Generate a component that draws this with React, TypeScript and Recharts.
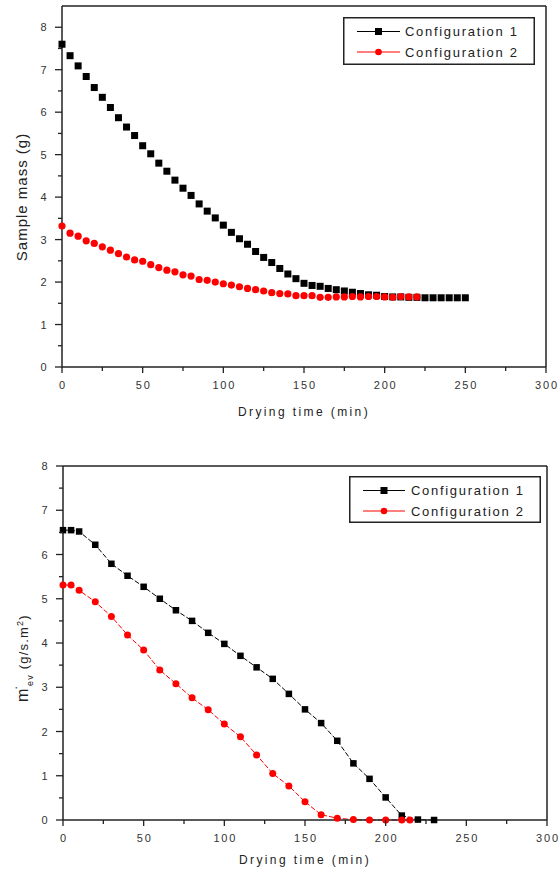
import { Label, Legend, Line, LineChart, ReferenceLine, XAxis, YAxis } from "recharts";

const FONT = "'Liberation Sans', Arial, sans-serif";
const INK = "#222";

const SERIES_NAMES = ["Configuration 1", "Configuration 2"];
const SERIES_COLORS = ["#000000", "#ff0000"];

const X_TICKS = [0, 25, 50, 75, 100, 125, 150, 175, 200, 225, 250, 275, 300];
const Y_TICKS = [0, 0.5, 1, 1.5, 2, 2.5, 3, 3.5, 4, 4.5, 5, 5.5, 6, 6.5, 7, 7.5, 8];

// sample mass, top panel
const MASS_TIME_1 = [
  0, 5, 10, 15, 20, 25, 30, 35, 40, 45, 50, 55, 60, 65, 70, 75, 80, 85, 90, 95, 100, 105, 110, 115, 120, 125,
  130, 135, 140, 145, 150, 155, 160, 165, 170, 175, 180, 185, 190, 195, 200, 205, 210, 215, 220, 225, 230, 235,
  240, 245, 250,
];
const MASS_1 = [
  7.6, 7.33, 7.09, 6.84, 6.58, 6.35, 6.11, 5.87, 5.65, 5.45, 5.21, 5.02, 4.8, 4.61, 4.4, 4.21, 4.04, 3.84, 3.67,
  3.51, 3.34, 3.17, 3.02, 2.89, 2.72, 2.58, 2.46, 2.32, 2.19, 2.08, 1.97, 1.92, 1.9, 1.85, 1.82, 1.79, 1.76, 1.73,
  1.7, 1.69, 1.66, 1.65, 1.65, 1.64, 1.64, 1.63, 1.63, 1.63, 1.63, 1.63, 1.63,
];
const MASS_TIME_2 = [
  0, 5, 10, 15, 20, 25, 30, 35, 40, 45, 50, 55, 60, 65, 70, 75, 80, 85, 90, 95, 100, 105, 110, 115, 120, 125,
  130, 135, 140, 145, 150, 155, 160, 165, 170, 175, 180, 185, 190, 195, 200, 205, 210, 215, 220,
];
const MASS_2 = [
  3.32, 3.15, 3.08, 2.97, 2.91, 2.83, 2.75, 2.67, 2.59, 2.52, 2.49, 2.41, 2.34, 2.28, 2.24, 2.17, 2.14, 2.06,
  2.04, 2.0, 1.96, 1.93, 1.89, 1.85, 1.82, 1.79, 1.75, 1.73, 1.72, 1.68, 1.68, 1.68, 1.64, 1.64, 1.65, 1.65,
  1.66, 1.65, 1.66, 1.66, 1.65, 1.64, 1.66, 1.65, 1.65,
];

// evaporation rate, bottom panel
const RATE_TIME_1 = [
  0, 5, 10, 20, 30, 40, 50, 60, 70, 80, 90, 100, 110, 120, 130, 140, 150, 160, 170, 180, 190, 200, 210, 220, 230,
];
const RATE_1 = [
  6.55, 6.55, 6.52, 6.22, 5.79, 5.52, 5.27, 5.0, 4.74, 4.5, 4.23, 3.98, 3.71, 3.45, 3.19, 2.85, 2.5, 2.19, 1.79,
  1.28, 0.93, 0.51, 0.1, 0.01, 0.0,
];
const RATE_TIME_2 = [
  0, 5, 10, 20, 30, 40, 50, 60, 70, 80, 90, 100, 110, 120, 130, 140, 150, 160, 170, 180, 190, 200, 210, 215,
];
const RATE_2 = [
  5.31, 5.31, 5.19, 4.93, 4.6, 4.18, 3.84, 3.39, 3.08, 2.76, 2.49, 2.17, 1.88, 1.47, 1.05, 0.77, 0.41, 0.12,
  0.04, 0.01, 0.0, 0.0, 0.0, 0.0,
];

const toPoints = (ts: number[], vs: number[]) => ts.map((t, i) => ({ t, v: vs[i] }));

const squareDot = (size: number) => (p: any) =>
  p.cx == null ? null : (
    <rect key={`sq-${p.index}`} x={p.cx - size / 2} y={p.cy - size / 2} width={size} height={size} fill="#000" />
  );

const roundDot = (r: number) => (p: any) =>
  p.cx == null ? null : <circle key={`ci-${p.index}`} cx={p.cx} cy={p.cy} r={r} fill="#ff0000" />;

function YTick({ x, y, payload }: any) {
  const major = Number.isInteger(payload.value);
  return (
    <g>
      <line x1={x} x2={x - (major ? 7 : 4)} y1={y} y2={y} stroke={INK} strokeWidth={1.3} />
      {major && (
        <text x={x - 14} y={y + 4} textAnchor="end" fontSize={11} fill="#333" fontFamily={FONT} letterSpacing={1.5}>
          {payload.value}
        </text>
      )}
    </g>
  );
}

function XTick({ x, y, payload }: any) {
  const major = payload.value % 50 === 0;
  return (
    <g>
      <line x1={x} x2={x} y1={y} y2={y + (major ? 6 : 4)} stroke={INK} strokeWidth={1.3} />
      {major && (
        <text x={x + 1} y={y + 22} textAnchor="middle" fontSize={11} fill="#333" fontFamily={FONT} letterSpacing={1.8}>
          {payload.value}
        </text>
      )}
    </g>
  );
}

function LegendBox({ width, height, lineFrom, lineTo, textX }: any) {
  const rows = [14.5, 35];
  return (
    <svg width={width} height={height} style={{ display: "block" }}>
      <rect x={0.75} y={0.75} width={width - 1.5} height={height - 1.5} fill="#fff" stroke={INK} strokeWidth={1.5} />
      {SERIES_NAMES.map((name, i) => {
        const cy = rows[i];
        const mid = (lineFrom + lineTo) / 2;
        return (
          <g key={name}>
            <line x1={lineFrom} x2={lineTo} y1={cy} y2={cy} stroke={SERIES_COLORS[i]} strokeWidth={1.2} />
            {i === 0 ? (
              <rect x={mid - 3.5} y={cy - 3.5} width={7} height={7} fill="#000" />
            ) : (
              <circle cx={mid} cy={cy} r={3.3} fill="#ff0000" />
            )}
            <text x={textX} y={cy + 4.5} fontSize={13} fill={INK} fontFamily={FONT} letterSpacing={1.7}>
              {name}
            </text>
          </g>
        );
      })}
    </svg>
  );
}

const xTitle = (cx: number, cy: number) => () =>
  (
    <text x={cx} y={cy} textAnchor="middle" fontSize={12} fill={INK} fontFamily={FONT} letterSpacing={2.4}>
      Drying time (min)
    </text>
  );

const massTitle = () => (
  <text
    transform="translate(27,197) rotate(-90)"
    textAnchor="middle"
    fontSize={15}
    fill={INK}
    fontFamily={FONT}
    letterSpacing={1}
  >
    Sample mass (g)
  </text>
);

// coordinates are local to the lower chart's svg (which starts at page y = 436)
const rateTitle = () => (
  <text transform="translate(28,266) rotate(-90)" fill={INK} fontFamily={FONT} fontSize={13} letterSpacing={1.2}>
    <tspan fontSize={16}>m</tspan>
    <tspan fontSize={12} dy={-11} dx={-2}>.</tspan>
    <tspan fontSize={9} dy={16} dx={-1}>ev</tspan>
    <tspan dy={-5}> (g/s.m</tspan>
    <tspan fontSize={9} dy={-5}>2</tspan>
    <tspan dy={5}>)</tspan>
  </text>
);

export default function App() {
  const mass1 = toPoints(MASS_TIME_1, MASS_1);
  const mass2 = toPoints(MASS_TIME_2, MASS_2);
  const rate1 = toPoints(RATE_TIME_1, RATE_1);
  const rate2 = toPoints(RATE_TIME_2, RATE_2);

  return (
    <div style={{ position: "absolute", left: 0, top: 0, width: 560, height: 872, background: "#fff" }}>
      <div style={{ position: "absolute", left: 0, top: 0 }}>
        <LineChart width={560} height={430} margin={{ top: 6, right: 14, bottom: 0, left: 0 }}>
          <XAxis
            dataKey="t"
            type="number"
            domain={[0, 300]}
            ticks={X_TICKS}
            interval={0}
            height={63}
            tickSize={0}
            tickMargin={0}
            tick={<XTick />}
            axisLine={{ stroke: INK, strokeWidth: 1.5 }}
            tickLine={false}
          >
            <Label content={xTitle(304, 416)} />
          </XAxis>
          <YAxis
            type="number"
            domain={[0, 8.5]}
            ticks={Y_TICKS}
            interval={0}
            width={62}
            tickSize={0}
            tickMargin={0}
            tick={<YTick />}
            axisLine={{ stroke: INK, strokeWidth: 1.5 }}
            tickLine={false}
          >
            <Label content={massTitle} />
          </YAxis>
          <ReferenceLine y={8.5} stroke={INK} strokeWidth={1.5} />
          <ReferenceLine x={300} stroke={INK} strokeWidth={1.5} />
          <Line
            data={mass1}
            dataKey="v"
            name={SERIES_NAMES[0]}
            stroke="none"
            dot={squareDot(7)}
            isAnimationActive={false}
          />
          <Line
            data={mass2}
            dataKey="v"
            name={SERIES_NAMES[1]}
            stroke="none"
            dot={roundDot(3.6)}
            isAnimationActive={false}
          />
          <Legend
            layout="vertical"
            align="center"
            verticalAlign="middle"
            wrapperStyle={{ left: 343, top: 17, width: 192, height: 48 }}
            content={() => <LegendBox width={192} height={48} lineFrom={14} lineTo={57} textX={62} />}
          />
        </LineChart>
      </div>

      <div style={{ position: "absolute", left: 0, top: 436 }}>
        <LineChart width={560} height={436} margin={{ top: 30, right: 13, bottom: 0, left: 0 }}>
          <XAxis
            dataKey="t"
            type="number"
            domain={[0, 300]}
            ticks={X_TICKS}
            interval={0}
            height={52}
            tickSize={0}
            tickMargin={0}
            tick={<XTick />}
            axisLine={{ stroke: INK, strokeWidth: 1.5 }}
            tickLine={false}
          >
            <Label content={xTitle(305, 428)} />
          </XAxis>
          <YAxis
            type="number"
            domain={[0, 8]}
            ticks={Y_TICKS}
            interval={0}
            width={63}
            tickSize={0}
            tickMargin={0}
            tick={<YTick />}
            axisLine={{ stroke: INK, strokeWidth: 1.5 }}
            tickLine={false}
          >
            <Label content={rateTitle} />
          </YAxis>
          <ReferenceLine y={8} stroke={INK} strokeWidth={1.5} />
          <ReferenceLine x={300} stroke={INK} strokeWidth={1.5} />
          <Line
            data={rate1}
            dataKey="v"
            name={SERIES_NAMES[0]}
            stroke="#000"
            strokeWidth={1}
            strokeDasharray="5 2"
            dot={squareDot(6.5)}
            isAnimationActive={false}
          />
          <Line
            data={rate2}
            dataKey="v"
            name={SERIES_NAMES[1]}
            stroke="#ff0000"
            strokeWidth={1}
            strokeDasharray="5 2"
            dot={roundDot(3.5)}
            isAnimationActive={false}
          />
          <Legend
            layout="vertical"
            align="center"
            verticalAlign="middle"
            wrapperStyle={{ left: 349, top: 40, width: 192, height: 47 }}
            content={() => <LegendBox width={192} height={47} lineFrom={14} lineTo={56} textX={62} />}
          />
        </LineChart>
      </div>
    </div>
  );
}
